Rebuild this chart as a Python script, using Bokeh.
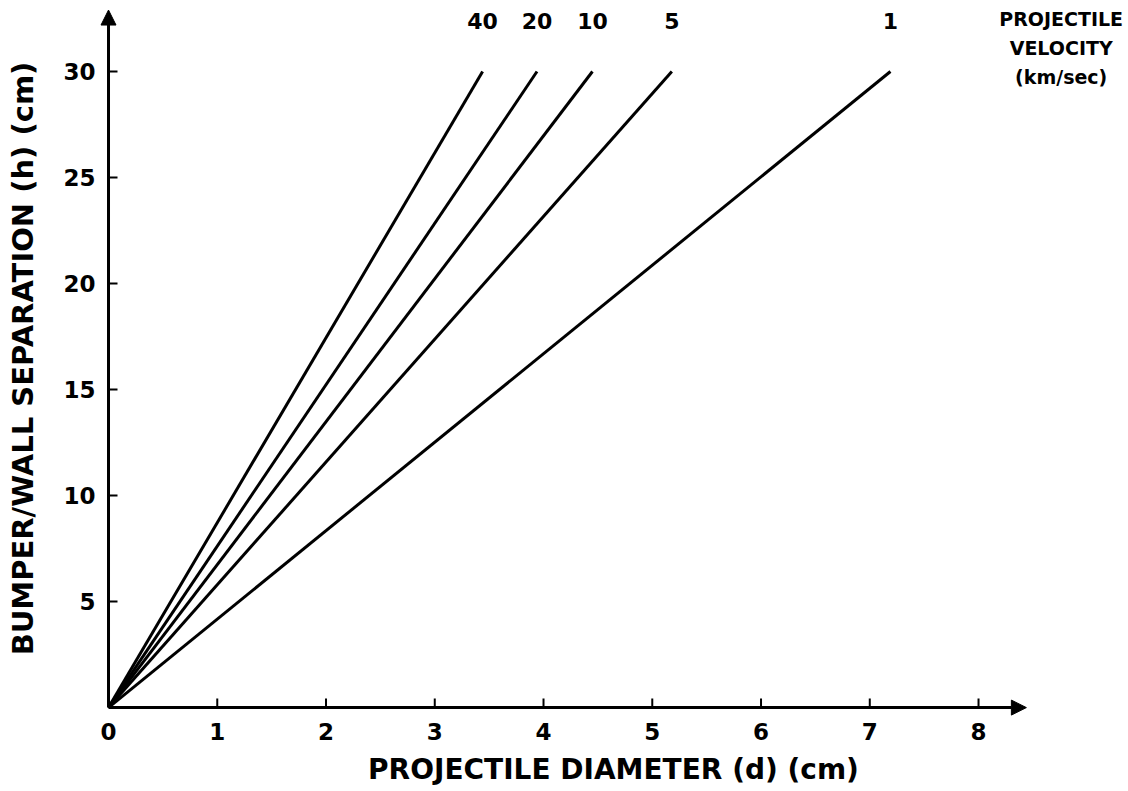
from bokeh.plotting import figure
from bokeh.models import Arrow, NormalHead, FixedTicker, ColumnDataSource, Range1d
from bokeh.core.properties import value
from bokeh.embed import file_html
from bokeh.resources import INLINE

# ---- data ----
velocity_labels = ["40", "20", "10", "5", "1"]          # km/sec
diameter_at_top = [3.44, 3.94, 4.45, 5.18, 7.19]        # d (cm) where h = 30 cm
separation_top = 30.0                                   # h (cm)
x_ticks = [0, 1, 2, 3, 4, 5, 6, 7, 8]
y_ticks = [5, 10, 15, 20, 25, 30]
x_axis_end = 8.44
y_axis_end = 32.9
legend_lines = ["PROJECTILE", "VELOCITY", "(km/sec)"]

FONT = "DejaVu Sans"
X0, X1 = -0.092, 9.379
Y0, Y1 = -0.42, 33.35

p = figure(width=1128, height=791,
           x_range=Range1d(X0, X1), y_range=Range1d(Y0, Y1),
           output_backend="svg", toolbar_location=None,
           min_border_left=98, min_border_right=0,
           min_border_top=0, min_border_bottom=75)
p.grid.visible = False
p.outline_line_color = None
p.background_fill_color = "white"
p.border_fill_color = "white"

for ax, ticks in ((p.xaxis, x_ticks), (p.yaxis, y_ticks)):
    ax.ticker = FixedTicker(ticks=ticks)
    ax.axis_line_color = None
    ax.major_tick_line_color = None
    ax.major_tick_in = 0
    ax.major_tick_out = 0
    ax.minor_tick_line_color = None
    ax.major_label_text_font = FONT
    ax.major_label_text_font_style = "bold"
    ax.major_label_text_font_size = "23px"
    ax.major_label_text_color = "black"
    ax.axis_label_text_font = FONT
    ax.axis_label_text_font_style = "bold"
    ax.axis_label_text_color = "black"

p.xaxis.major_label_standoff = 6
p.yaxis.major_label_standoff = 3
p.xaxis.axis_label = "PROJECTILE DIAMETER (d) (cm)"
p.xaxis.axis_label_text_font_size = "28px"
p.xaxis.axis_label_standoff = 10
p.yaxis.axis_label = "BUMPER/WALL SEPARATION (h) (cm)"
p.yaxis.axis_label_text_font_size = "29px"
p.yaxis.axis_label_standoff = 20

# tick marks (pointing inward from the axis lines), drawn in data space
tick_len_x = 9 / ((1128 - 98) / (X1 - X0))
tick_len_y = 9 / ((791 - 75) / (Y1 - Y0))
p.segment(x0=x_ticks[1:], y0=[0] * (len(x_ticks) - 1), x1=x_ticks[1:], y1=[tick_len_y] * (len(x_ticks) - 1),
          line_color="black", line_width=2)
p.segment(x0=[0] * len(y_ticks), y0=y_ticks, x1=[tick_len_x] * len(y_ticks), y1=y_ticks,
          line_color="black", line_width=2)

# axis arrows
p.add_layout(Arrow(x_start=0, y_start=0, x_end=x_axis_end, y_end=0, line_width=3, line_color="black",
                   end=NormalHead(size=15, fill_color="black", line_color="black")))
p.add_layout(Arrow(x_start=0, y_start=0, x_end=0, y_end=y_axis_end, line_width=3, line_color="black",
                   end=NormalHead(size=15, fill_color="black", line_color="black")))

# lines from origin
src = ColumnDataSource(dict(
    xs=[[0, d] for d in diameter_at_top],
    ys=[[0, separation_top] for _ in diameter_at_top],
))
p.multi_line("xs", "ys", source=src, line_color="black", line_width=3)

# velocity labels above line ends
lab = ColumnDataSource(dict(x=diameter_at_top,
                            y=[separation_top + 2.0] * len(diameter_at_top),
                            t=velocity_labels))
p.text("x", "y", text="t", source=lab, text_align="center", text_baseline="bottom",
       text_font=value(FONT), text_font_style="bold", text_font_size="22px", text_color="black")

# legend heading
leg = ColumnDataSource(dict(x=[8.76] * len(legend_lines),
                            y=[32.5 - 1.37 * i for i in range(len(legend_lines))],
                            t=legend_lines))
p.text("x", "y", text="t", source=leg, text_align="center", text_baseline="middle",
       text_font=value(FONT), text_font_style="bold", text_font_size="19px", text_color="black")

open("out.html", "w").write(file_html(p, INLINE))
